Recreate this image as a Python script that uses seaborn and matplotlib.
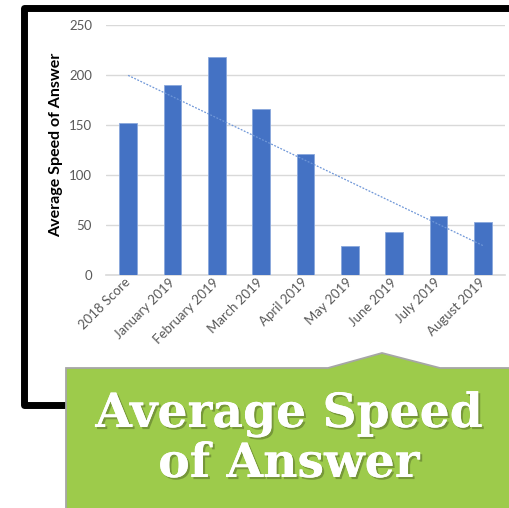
import numpy as np
import pandas as pd
import matplotlib
matplotlib.use("Agg")
import matplotlib.pyplot as plt
import matplotlib.patheffects as pe
from matplotlib.patches import Polygon
from matplotlib.lines import Line2D
import seaborn as sns

# Monthly average speed of answer (seconds)
periods = ["2018 Score", "January 2019", "February 2019", "March 2019", "April 2019",
           "May 2019", "June 2019", "July 2019", "August 2019"]
speed = [152, 190, 218, 166, 121, 29, 43, 59, 53]
y_ticks = [0, 50, 100, 150, 200, 250]

title_lines = ["Average Speed", "of Answer"]

sns.set_theme(style="white")
plt.rcParams["font.family"] = ["Lato", "DejaVu Sans"]

W, H = 510, 508
fig = plt.figure(figsize=(W / 100, H / 100), dpi=100)


def px(x, y):
    """Pixel position (from top-left) to figure fraction."""
    return x / W, 1 - y / H


ax = fig.add_axes([106 / W, 1 - 275 / H, 399 / W, 250 / H])
df = pd.DataFrame({"period": periods, "speed": speed})
sns.barplot(data=df, x="period", y="speed", color="#4472C4", width=0.4,
            saturation=1, edgecolor="#8AA8DC", linewidth=0.6, ax=ax, zorder=3)

# linear trendline through the bars
xs = np.arange(len(speed))
slope, icpt = np.polyfit(xs, speed, 1)
ax.plot([xs[0], xs[-1]], [icpt, icpt + slope * xs[-1]], linestyle=(0, (1.5, 1.2)),
        color="#6F97D8", linewidth=0.9, zorder=4)

ax.set_xlim(-0.5, len(speed) - 0.5)
ax.set_ylim(0, 250)
ax.set_yticks(y_ticks)
ax.yaxis.grid(True, color="#D9D9D9", linewidth=1, zorder=0)
ax.set_axisbelow(True)
for s in ["top", "left", "right"]:
    ax.spines[s].set_visible(False)
ax.spines["bottom"].set_color("#D9D9D9")
ax.spines["bottom"].set_linewidth(1.2)
ax.tick_params(axis="both", length=0, colors="#595959", labelsize=9.5)
ax.tick_params(axis="y", pad=10)
ax.tick_params(axis="x", pad=4)
for lab in ax.get_xticklabels():
    lab.set_rotation(45)
    lab.set_ha("right")
    lab.set_va("center")
    lab.set_rotation_mode("anchor")
    lab.set_color("#595959")
ax.set_xlabel("")
ax.set_ylabel("Average Speed of Answer", fontsize=11.5, fontweight="bold", color="black")
ax.yaxis.set_label_coords((63 - 106) / 399, 0.52)

# black frame around the chart
frame = Line2D([px(70, 404.5)[0], px(23.5, 404.5)[0], px(23.5, 7.5)[0], px(520, 7.5)[0]],
               [px(70, 404.5)[1], px(23.5, 404.5)[1], px(23.5, 7.5)[1], px(520, 7.5)[1]],
               transform=fig.transFigure, color="black", linewidth=5.0,
               solid_joinstyle="round", solid_capstyle="butt", zorder=5)
fig.add_artist(frame)

# green callout panel with a pointer
pts = [(66, 368), (328, 368), (382, 353), (440, 368), (520, 368), (520, 520), (66, 520)]
panel = Polygon([px(*p) for p in pts], closed=True, transform=fig.transFigure,
                facecolor="#9DCB4B", edgecolor="#A6A6A6", linewidth=1.3, zorder=6)
fig.add_artist(panel)

shadow = [pe.withSimplePatchShadow(offset=(1.5, -1.5), shadow_rgbFace="#3d4a20", alpha=0.4),
          pe.Normal()]
for i, line in enumerate(title_lines):
    x, y = px(289, 427 + 50 * i)
    fig.text(x, y, line, ha="center", va="baseline", color="white", fontsize=34,
             fontweight="bold", family=["DejaVu Serif"], zorder=7, path_effects=shadow)

fig.savefig("out.png", dpi=100)
